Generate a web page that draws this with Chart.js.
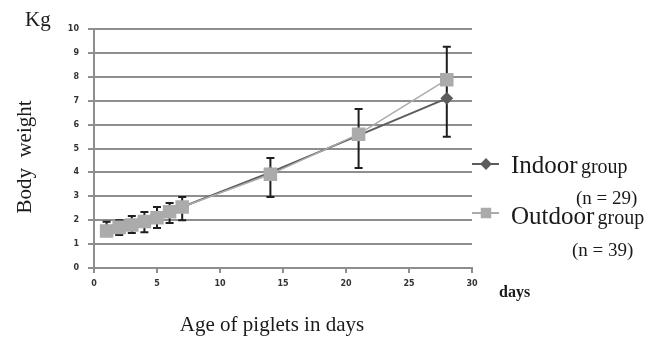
<!DOCTYPE html>
<html>
<head>
<meta charset="utf-8">
<script src="https://cdn.jsdelivr.net/npm/chart.js@4.4.0/dist/chart.umd.min.js"></script>
<style>
  html, body { margin: 0; padding: 0; background: #fff; }
  #wrap { width: 667px; height: 342px; position: relative; }
</style>
</head>
<body>
<div id="wrap"><canvas id="myChart"></canvas></div>
<script>
// piglet body weight (kg) by age (days)
const days = [1, 2, 3, 4, 5, 6, 7, 14, 21, 28];
const indoor = [1.6, 1.72, 1.82, 1.95, 2.12, 2.35, 2.55, 4.0, 5.55, 7.1];
const outdoor = [1.55, 1.7, 1.8, 1.95, 2.1, 2.35, 2.55, 3.92, 5.6, 7.88];
// error bar ends
const errHigh = [1.94, 2.0, 2.18, 2.34, 2.55, 2.72, 2.97, 4.6, 6.65, 9.26];
const errLow = [1.45, 1.38, 1.46, 1.5, 1.67, 1.88, 2.0, 2.97, 4.18, 5.49];
const xTicks = [0, 5, 10, 15, 20, 25, 30];
const yTicks = [0, 1, 2, 3, 4, 5, 6, 7, 8, 9, 10];

const DARK = '#5c5c5c';
const LIGHT = '#ababab';
const GRID = '#8e8e8e';
const SERIF = '"Liberation Serif", "DejaVu Serif", serif';

const errorBars = {
  id: 'errorBars',
  beforeDatasetsDraw(chart) {
    const { ctx, scales: { x, y } } = chart;
    ctx.save();
    ctx.strokeStyle = '#1e1e1e';
    ctx.lineWidth = 2;
    days.forEach((d, i) => {
      const px = x.getPixelForValue(d);
      const top = y.getPixelForValue(errHigh[i]);
      const bot = y.getPixelForValue(errLow[i]);
      ctx.beginPath();
      ctx.moveTo(px, top); ctx.lineTo(px, bot);
      ctx.moveTo(px - 4, top); ctx.lineTo(px + 4, top);
      ctx.moveTo(px - 4, bot); ctx.lineTo(px + 4, bot);
      ctx.stroke();
    });
    ctx.restore();
  }
};

const extraText = {
  id: 'extraText',
  afterDraw(chart) {
    const ctx = chart.ctx;
    ctx.save();
    ctx.fillStyle = '#1a1a1a';
    ctx.textBaseline = 'alphabetic';

    ctx.font = '21px ' + SERIF;
    ctx.fillText('Kg', 25, 26);
    ctx.textAlign = 'center';
    ctx.fillText('Age of piglets in days', 272, 331);
    ctx.save();
    ctx.translate(31, 157);
    ctx.rotate(-Math.PI / 2);
    ctx.fillText('Body  weight', 0, 0);
    ctx.restore();

    ctx.textAlign = 'left';
    ctx.font = 'bold 16px ' + SERIF;
    ctx.fillText('days', 499, 297);

    // legend
    const items = [
      { big: 'Indoor', n: '(n = 29)', color: DARK, style: 'rectRot', r: 4.5, ly: 164, base: 173, nx: 576, nb: 204 },
      { big: 'Outdoor', n: '(n = 39)', color: LIGHT, style: 'rect', r: 6, ly: 213, base: 224, nx: 572, nb: 256 }
    ];
    items.forEach(it => {
      ctx.strokeStyle = it.color;
      ctx.fillStyle = it.color;
      ctx.lineWidth = 2;
      ctx.beginPath();
      ctx.moveTo(472, it.ly); ctx.lineTo(499, it.ly);
      ctx.stroke();
      Chart.helpers.drawPoint(ctx, { pointStyle: it.style, radius: it.r, borderWidth: 1 }, 486, it.ly);
      ctx.fillStyle = '#1a1a1a';
      ctx.font = '25px ' + SERIF;
      ctx.fillText(it.big, 511, it.base);
      const w = ctx.measureText(it.big + ' ').width;
      ctx.font = '20px ' + SERIF;
      ctx.fillText('group', 511 + w - 3, it.base);
      ctx.font = '19px ' + SERIF;
      ctx.fillText(it.n, it.nx, it.nb);
    });
    ctx.restore();
  }
};

const data = {
  datasets: [
    {
      label: 'Indoor group',
      data: days.map((d, i) => ({ x: d, y: indoor[i] })),
      borderColor: DARK,
      backgroundColor: DARK,
      borderWidth: 2,
      pointStyle: 'rectRot',
      pointRadius: 5,
      tension: 0,
      order: 1
    },
    {
      label: 'Outdoor group',
      data: days.map((d, i) => ({ x: d, y: outdoor[i] })),
      borderColor: LIGHT,
      backgroundColor: LIGHT,
      borderWidth: 1.5,
      pointStyle: 'rect',
      pointRadius: 8.5,
      tension: 0,
      order: 0
    }
  ]
};

const ctx = document.getElementById('myChart').getContext('2d');
const chart = new Chart(ctx, {
  type: 'line',
  data: data,
  options: {
    responsive: true,
    maintainAspectRatio: false,
    animation: false,
    layout: { padding: { left: 0, right: 195, top: 29, bottom: 0 } },
    scales: {
      x: {
        type: 'linear',
        min: 0,
        max: 30,
        afterBuildTicks: (s) => { s.ticks = xTicks.map(v => ({ value: v })); },
        afterFit: (s) => { s.height = 74; },
        grid: { drawOnChartArea: false, drawTicks: true, tickLength: 5, color: GRID, lineWidth: 2 },
        border: { color: GRID, width: 2 },
        ticks: { padding: 6, color: '#333', font: { family: 'DejaVu Sans', size: 8, weight: 'bold' }, maxRotation: 0 }
      },
      y: {
        min: 0,
        max: 10,
        afterBuildTicks: (s) => { s.ticks = yTicks.map(v => ({ value: v })); },
        afterFit: (s) => { s.width = 94; },
        grid: { color: GRID, lineWidth: 2, tickLength: 6 },
        border: { color: GRID, width: 2 },
        ticks: { padding: 9, color: '#333', font: { family: 'DejaVu Sans', size: 8, weight: 'bold' } }
      }
    },
    plugins: {
      legend: { display: false },
      title: { display: false },
      tooltip: { enabled: false }
    }
  },
  plugins: [errorBars, extraText]
});
</script>
</body>
</html>
